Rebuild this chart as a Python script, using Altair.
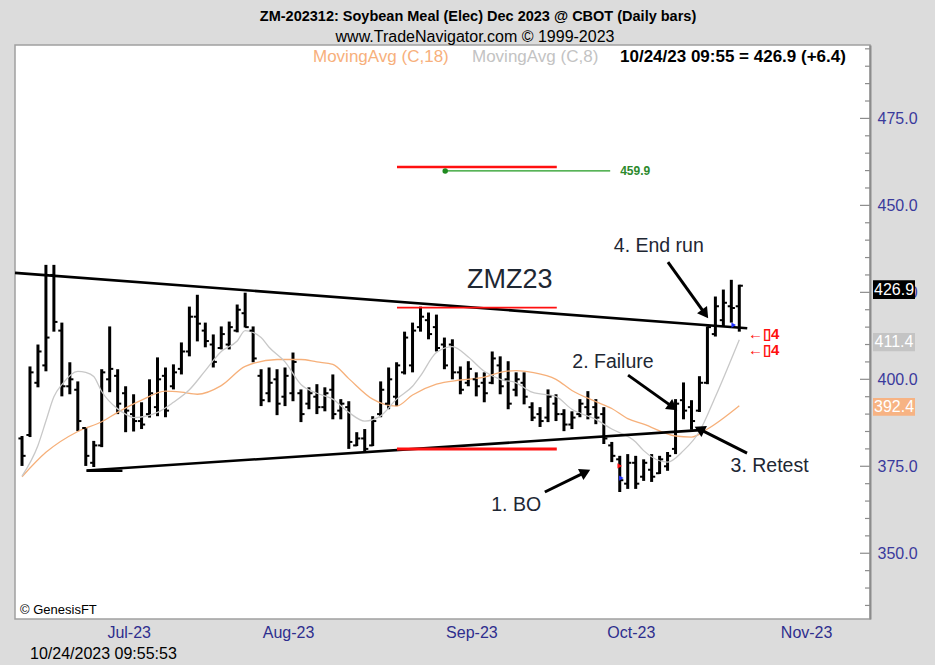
import altair as alt
import pandas as pd

# ---------------- data ----------------
bar_idx = list(range(91))
opens = [383, 384, 399, 404, 430, 414, 398, 397, 386, 376, 381, 400, 401, 396, 390, 388, 390, 392, 401, 398,
         403, 408, 418, 414, 410, 409, 410, 414, 419, 414, 401, 396, 400, 395, 396, 396, 393, 395, 392, 397,
         391, 392, 381, 383, 381, 390, 393, 395, 402, 404, 415, 417, 415, 410, 410, 402, 399, 400, 399, 399,
         404, 400, 397, 399, 392, 390, 389, 393, 390, 387, 390, 392, 392, 390, 381, 377, 370, 376, 372, 374,
         373, 375, 380, 394, 392, 391, 399, 413, 417, 421, 421]
highs = [383.7, 403.7, 410.0, 432.9, 432.9, 416.3, 404.9, 399.4, 386.3, 382.3, 402.9, 415.2, 402.9, 398.0, 395.7,
         393.4, 400.0, 406.3, 403.4, 404.3, 410.6, 420.9, 424.3, 416.3, 412.9, 415.2, 416.6, 421.5, 424.9, 415.2,
         402.9, 403.4, 402.9, 403.4, 407.7, 397.1, 397.7, 398.6, 397.7, 401.4, 394.3, 393.7, 384.8, 385.7, 389.4,
         399.4, 403.4, 404.9, 413.7, 416.3, 420.9, 419.2, 418.6, 412.0, 411.5, 403.7, 405.2, 402.0, 402.0, 408.0,
         406.6, 405.2, 402.0, 402.0, 393.4, 392.0, 397.1, 395.7, 391.4, 390.8, 394.3, 396.6, 394.3, 392.0, 382.0,
         378.0, 378.5, 378.0, 377.0, 378.5, 378.0, 379.1, 394.3, 399.1, 394.0, 400.9, 415.2, 423.8, 425.8, 428.6,
         427.2]
lows = [375.1, 383.4, 397.7, 402.3, 413.7, 395.1, 395.7, 385.1, 375.1, 374.8, 380.5, 396.3, 390.0, 384.8, 385.0,
        385.7, 389.0, 389.4, 389.1, 397.1, 401.4, 406.6, 410.9, 409.2, 403.4, 408.6, 408.6, 413.5, 414.9, 404.9,
        392.3, 393.4, 389.7, 392.3, 393.7, 387.7, 391.4, 390.0, 390.8, 388.5, 388.5, 380.0, 380.8, 379.1, 380.8,
        389.1, 391.4, 392.3, 401.4, 402.0, 413.7, 411.5, 408.0, 402.9, 400.0, 395.7, 398.0, 395.1, 393.4, 398.6,
        395.7, 391.4, 395.1, 392.8, 388.0, 386.3, 387.7, 388.0, 385.1, 385.7, 389.1, 388.5, 387.1, 381.4, 376.2,
        367.6, 368.5, 368.5, 370.8, 370.5, 372.8, 373.7, 378.5, 388.5, 385.5, 390.6, 398.6, 412.3, 415.2, 416.3,
        413.7]
closes = [378, 402, 408, 412, 416.5, 398, 400, 388, 378, 381, 402, 403, 393, 391, 388, 387, 396, 400, 391, 402,
          408, 418, 416, 411, 405, 413, 415, 420, 415, 406, 394, 399, 393, 401, 405, 390, 396, 392, 396, 390,
          393, 382, 383, 380, 388, 397, 400, 404, 412, 414, 418, 413, 409, 404, 402, 397, 403, 398, 396, 406,
          398, 393, 400, 395, 389, 388, 395, 390, 387, 389, 393, 390, 389, 383, 378, 371, 376, 370, 376, 372,
          377, 378, 393, 391, 388, 399, 415, 421, 422, 420.5, 426.9]

ma18_idx = [0, 3, 7, 10, 12, 15, 18, 20, 22, 25, 28, 32, 35, 37, 39, 41, 44, 47, 49, 52, 55, 58, 60, 62, 64,
            67, 69, 72, 74, 76, 78, 82, 84, 86, 90]
ma18_val = [372, 379, 385, 387.8, 390.5, 394, 396.6, 396.3, 395.7, 398.2, 403.7, 405.7, 405.7, 405, 404.3,
            400.2, 394.3, 392.3, 395.5, 398.6, 399.8, 400.6, 402, 402.5, 402, 400, 396.8, 393.6, 391.6, 388.7,
            387.1, 383.7, 383.4, 385.7, 392.4]
ma8_idx = [0, 2, 3, 4, 5, 7, 8, 9, 10, 12, 13, 14, 17, 19, 21, 23, 25, 27, 28, 30, 31, 33, 35, 37, 39, 41,
           43, 45, 47, 49, 50, 52, 54, 56, 58, 60, 62, 64, 67, 69, 72, 74, 77, 78, 81, 83, 85, 87, 90]
ma8_val = [372.2, 381, 388, 395, 398.5, 402.3, 402, 400.8, 396.5, 391.5, 390, 389, 390.5, 393.4, 397, 402.5,
           408, 411, 414, 412, 409.2, 405, 398.5, 396, 394.3, 390.5, 388, 389.5, 394.3, 398, 401, 407.7, 409.4,
           406.4, 402.3, 400, 399, 396.3, 395, 391.4, 388.5, 385.7, 382, 379.5, 376.2, 379.5, 385, 395, 411.4]

# trend lines (start index, start price, end index, end price)
trend_x1 = [-0.88, 8.1, 8.1]
trend_y1 = [430.6, 373.7, 373.8]
trend_x2 = [91.0, 12.6, 85.1]
trend_y2 = [414.7, 373.7, 385.4]

red_levels = [461.0, 420.6, 380.0]
red_width = [2.5, 1.6, 3.0]
red_from, red_to = 47.05, 67.1
green_level, green_from, green_to = 459.9, 53.1, 73.8

month_idx = [11, 31, 54, 74, 96]
month_lab = ["Jul-23", "Aug-23", "Sep-23", "Oct-23", "Nov-23"]
price_ticks = [350, 375, 400, 425, 450, 475]

ann_text = ["ZMZ23", "4. End run", "2. Failure", "3. Retest", "1. BO"]
ann_x = [61.2, 79.9, 74.15, 93.8, 62.0]
ann_y = [428.5, 438.3, 405.0, 375.1, 363.9]
ann_size = [27, 19.5, 19.5, 19.5, 19.5]

arr_x1 = [81.05, 76.04, 90.97, 65.6]
arr_y1 = [433.7, 401.2, 378.8, 367.6]
arr_x2 = [85.71, 81.67, 85.0, 70.7]
arr_y2 = [418.8, 392.0, 385.66, 373.3]
arr_ang = [144.5, 125.5, 296.6, 63.9]

box_text = ["426.9", "411.4", "392.4"]
box_hi = [428.5, 413.3, 394.6]
box_lo = [423.1, 408.1, 389.5]
box_col = ["#000000", "#c4c4c4", "#f7b383"]

W, H = 855, 574
xs = alt.Scale(domain=[-0.88, 106.4], nice=False, zero=False)
ys = alt.Scale(domain=[331.1, 496.1], nice=False, zero=False)
FONT = "Liberation Sans"

label_expr = "[" + ",".join("'%s'" % m for m in month_lab) + "][indexof([" + \
    ",".join(str(v) for v in month_idx) + "], datum.value)]"
xaxis = alt.Axis(values=month_idx, labelExpr=label_expr, title=None, ticks=False, domain=False,
                 grid=False, labelFontSize=16, labelColor="#2e2e8e", labelPadding=5, labelOffset=19,
                 labelFlush=False, labelOverlap=False, labelFont=FONT)
yaxis = alt.Axis(orient="right", values=price_ticks, format=".1f", title=None,
                 ticks=False, domain=True, domainColor="#8c8c8c", domainWidth=2, grid=False,
                 labelFontSize=16, labelColor="#3a3a9c", labelPadding=7, labelFont=FONT)


def X(f):
    return alt.X(f, scale=xs, axis=xaxis)


def Y(f):
    return alt.Y(f, scale=ys, axis=yaxis)


bars = pd.DataFrame(dict(i=bar_idx, o=opens, h=highs, l=lows, c=closes))
base = alt.Chart(bars)
hl = base.mark_rule(color="black", strokeWidth=3).encode(x=X("i:Q"), y=Y("l:Q"), y2="h:Q")
op = base.transform_calculate(a="datum.i-0.45").mark_rule(color="black", strokeWidth=2).encode(
    x=X("a:Q"), x2="i:Q", y=Y("o:Q"))
cl = base.transform_calculate(b="datum.i+0.45").mark_rule(color="black", strokeWidth=2).encode(
    x=X("i:Q"), x2="b:Q", y=Y("c:Q"))

ma18 = alt.Chart(pd.DataFrame(dict(i=ma18_idx, v=ma18_val))).mark_line(
    color="#f6b07a", strokeWidth=1.3, interpolate="monotone").encode(x=X("i:Q"), y=Y("v:Q"))
ma8 = alt.Chart(pd.DataFrame(dict(i=ma8_idx, v=ma8_val))).mark_line(
    color="#c8c8c8", strokeWidth=1.3, interpolate="monotone").encode(x=X("i:Q"), y=Y("v:Q"))

trend = alt.Chart(pd.DataFrame(dict(x1=trend_x1, y1=trend_y1, x2=trend_x2, y2=trend_y2))).mark_rule(
    color="black", strokeWidth=2.6).encode(x=X("x1:Q"), x2="x2:Q", y=Y("y1:Q"), y2="y2:Q")

red = alt.Chart(pd.DataFrame(dict(p=red_levels, w=red_width, a=[red_from] * 3, b=[red_to] * 3))).mark_rule(
    color="#ff1010").encode(x=X("a:Q"), x2="b:Q", y=Y("p:Q"),
                            strokeWidth=alt.StrokeWidth("w:Q", scale=None))

gdf = pd.DataFrame(dict(p=[green_level], a=[green_from], b=[green_to], t=["%.1f" % green_level]))
gline = alt.Chart(gdf).mark_rule(color="#1f9a1f", strokeWidth=1.3).encode(x=X("a:Q"), x2="b:Q", y=Y("p:Q"))
gdot = alt.Chart(gdf).mark_point(color="#1f8a1f", filled=True, size=30, opacity=1).encode(x=X("a:Q"), y=Y("p:Q"))
glab = alt.Chart(gdf).mark_text(color="#2d8a2d", fontWeight="bold", fontSize=12, align="left",
                                 dx=10, font=FONT).encode(x=X("b:Q"), y=Y("p:Q"), text="t:N")

adf = pd.DataFrame(dict(x1=arr_x1, y1=arr_y1, x2=arr_x2, y2=arr_y2, ang=arr_ang))
arr_line = alt.Chart(adf).mark_rule(color="black", strokeWidth=3).encode(
    x=X("x1:Q"), x2="x2:Q", y=Y("y1:Q"), y2="y2:Q")
arr_head = alt.Chart(adf).mark_point(shape="triangle-up", filled=True, color="black", size=150,
                                      opacity=1).encode(
    x=X("x2:Q"), y=Y("y2:Q"), angle=alt.Angle("ang:Q", scale=None))

ann = alt.Chart(pd.DataFrame(dict(t=ann_text, x=ann_x, y=ann_y, s=ann_size))).mark_text(
    color="#1e2733", font=FONT, align="center", baseline="middle").encode(
    x=X("x:Q"), y=Y("y:Q"), text="t:N", size=alt.Size("s:Q", scale=None))

tri = alt.Chart(pd.DataFrame(dict(x=[89.3, 75.0, 75.2], y=[415.6, 375.1, 371.6],
                                  c=["#1f2fff", "#ff1010", "#1f2fff"]))).mark_point(
    shape="triangle-right", filled=True, size=28, opacity=1).encode(
    x=X("x:Q"), y=Y("y:Q"), color=alt.Color("c:N", scale=None))

redmk = alt.Chart(pd.DataFrame(dict(x=[91.1, 91.1], y=[413.0, 408.4],
                                    t=["\u2190\u25af4", "\u2190\u25af4"]))).mark_text(
    color="#ff1010", fontSize=15, fontWeight="bold", align="left", baseline="middle").encode(
    x=X("x:Q"), y=Y("y:Q"), text="t:N")

# inward axis ticks
tick_v = [v for v in range(335, 496, 5)]
tdf = pd.DataFrame(dict(v=tick_v, L=[10 if v % 25 == 0 else 5 for v in tick_v]))
ticks_major = alt.Chart(tdf).transform_filter("datum.L == 10").mark_rule(color="#8c8c8c", strokeWidth=1.2).encode(
    y=Y("v:Q"), x=alt.value(W - 10), x2=alt.value(W))
ticks_minor = alt.Chart(tdf).transform_filter("datum.L == 5").mark_rule(color="#8c8c8c", strokeWidth=1.2).encode(
    y=Y("v:Q"), x=alt.value(W - 5), x2=alt.value(W))

bdf = pd.DataFrame(dict(t=box_text, hi=box_hi, lo=box_lo, c=box_col,
                        m=[(a + b) / 2 for a, b in zip(box_hi, box_lo)]))
box = alt.Chart(bdf).mark_rect().encode(
    x=alt.value(858), x2=alt.value(900), y=Y("hi:Q"), y2="lo:Q", color=alt.Color("c:N", scale=None))
boxt = alt.Chart(bdf).mark_text(color="white", fontSize=16, font=FONT, align="center", baseline="middle").encode(
    x=alt.value(879), y=Y("m:Q"), text="t:N")


def ptext(t, x, y, size, color="black", weight="normal", align="left"):
    return alt.Chart(pd.DataFrame(dict(t=[t]))).mark_text(
        fontSize=size, color=color, fontWeight=weight, align=align, baseline="middle", font=FONT).encode(
        x=alt.value(x), y=alt.value(y), text="t:N")


hdr = [
    ptext("ZM-202312:  Soybean Meal (Elec) Dec 2023 @ CBOT  (Daily bars)", 463, -28, 14.5, weight="bold", align="center"),
    ptext("www.TradeNavigator.com \u00a9 1999-2023", 460, -8, 16, align="center"),
    ptext("MovingAvg (C,18)", 298, 12, 17, color="#f7b07c"),
    ptext("MovingAvg (C,8)", 457, 12, 17, color="#c3c3c3"),
    ptext("10/24/23 09:55 = 426.9 (+6.4)", 605, 12, 17, weight="bold"),
    ptext("\u00a9 GenesisFT", 5, 565, 13),
    ptext("10/24/2023 09:55:53", 15, 609, 16),
]

chart = alt.layer(
    hl, ma18, ma8, trend, red, gline, gdot, glab, op, cl, arr_line, arr_head, ann, tri, redmk,
    ticks_major, ticks_minor, box, boxt, *hdr
).properties(
    width=W, height=H,
    padding={"left": 15, "top": 45, "right": 65, "bottom": 46},
    autosize=alt.AutoSizeParams(type="none"),
).configure(background="#dcdcdc", font=FONT).configure_view(stroke="#a0a0a0", strokeWidth=1.5, fill="white")

chart.save("out.html", embed_options={"renderer": "svg", "actions": False})
